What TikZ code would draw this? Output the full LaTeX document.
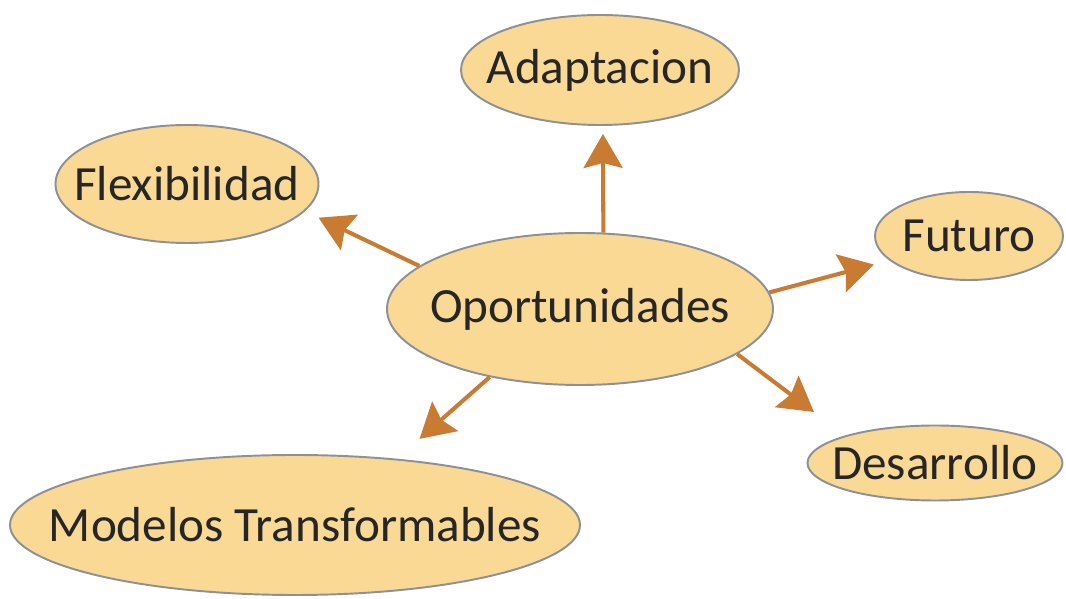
\documentclass[tikz,border=0pt]{standalone}
\usepackage{fontspec}
\setmainfont{Carlito}
\usetikzlibrary{arrows.meta,shapes.geometric}
\definecolor{bubble}{HTML}{FAD995}
\definecolor{rim}{HTML}{8D9096}
\definecolor{arr}{HTML}{C97B31}
\definecolor{ink}{HTML}{262626}

\begin{document}
\begin{tikzpicture}[
  >={Stealth[length=0.68cm,width=0.78cm,inset=0.1cm]},
  idea/.style={ellipse,draw=rim,line width=1.1pt,fill=bubble,inner sep=0pt,
    label={[ideatext]center:#1}},
  ideatext/.style={text=ink,font=\fontsize{28}{33}\selectfont},
  link/.style={->,draw=arr,line width=2.3pt}
]
\useasboundingbox (0,0) rectangle (21.32,11.98);

% central idea and the five branches
\node[idea=Oportunidades,minimum width=7.72cm,minimum height=3.04cm] (opp) at (11.6,5.8) {};
\node[idea=Adaptacion,minimum width=5.56cm,minimum height=2.2cm] (adapt) at (12.0,10.58) {};
\node[idea=Flexibilidad,minimum width=5.26cm,minimum height=2.36cm] (flex) at (3.74,8.3) {};
\node[idea=Futuro,minimum width=3.76cm,minimum height=1.76cm] (fut) at (19.38,7.26) {};
\node[idea=Desarrollo,minimum width=5.1cm,minimum height=1.5cm] (des) at (18.7,2.72) {};
\node[idea={Modelos Transformables},minimum width=11.4cm,minimum height=2.8cm] (mod) at (5.9,1.48) {};

% arrows out of the centre
\draw[link,shorten >=0.16cm] (opp.73) -- (adapt.273);
\draw[link,shorten >=0.3cm] (opp.165) -- (flex.-13);
\draw[link,shorten >=0.32cm] (opp.5) -- (fut.197);
\draw[link,shorten >=0.78cm] (opp.-16) -- (des.163);
\draw[link,shorten >=0.6cm] (opp.217) -- (mod.33);

\end{tikzpicture}
\end{document}
